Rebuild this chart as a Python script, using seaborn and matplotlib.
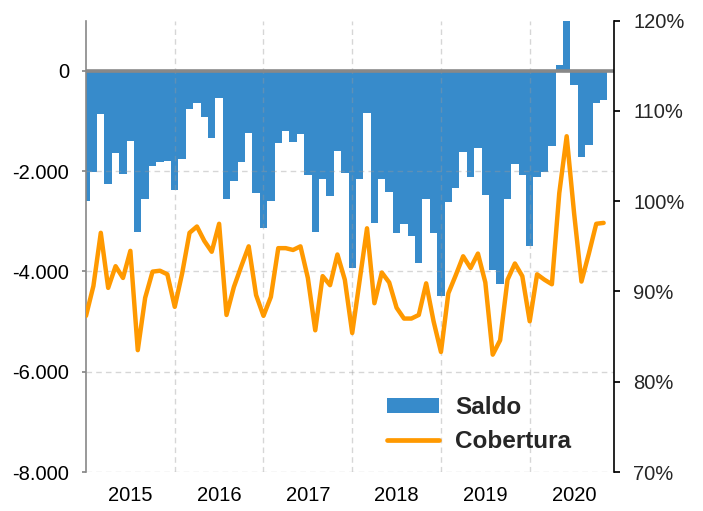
import numpy as np
import pandas as pd
import matplotlib
matplotlib.use("Agg")
import matplotlib.pyplot as plt
import seaborn as sns
from matplotlib.ticker import FixedLocator, FuncFormatter
from matplotlib.patches import Patch
from matplotlib.lines import Line2D

# monthly data, Jan 2015 .. Nov 2020
saldo = [-2600, -2010, -870, -2250, -1630, -2050, -1390, -3210, -2560, -1890, -1820, -1800,
         -2370, -1760, -760, -640, -920, -1340, -550, -2550, -2200, -1810, -1240, -2440,
         -3140, -2590, -1440, -1190, -1410, -1260, -2070, -3220, -2150, -2490, -1605, -2040,
         -3930, -2150, -840, -3030, -2150, -2420, -3230, -3050, -3290, -3830, -2560, -3230,
         -4490, -2620, -2340, -1610, -2110, -1540, -2470, -3970, -4260, -2560, -1860, -2070,
         -3500, -2110, -2010, -1490, 125, 1300, -290, -1720, -1470, -640, -575]
cobertura = [87.3, 90.6, 96.5, 90.4, 92.8, 91.5, 94.5, 83.5, 89.3, 92.2, 92.3, 91.9,
             88.3, 92.0, 96.5, 97.2, 95.6, 94.4, 97.5, 87.4, 90.5, 92.8, 95.0, 89.6,
             87.3, 89.4, 94.8, 94.8, 94.6, 95.0, 91.5, 85.7, 91.7, 90.7, 94.1, 91.3,
             85.4, 91.2, 97.0, 88.7, 92.1, 91.0, 88.2, 87.0, 87.0, 87.4, 90.9, 86.7,
             83.3, 89.8, 91.8, 93.9, 92.6, 94.2, 91.0, 83.0, 84.6, 91.3, 93.1, 91.7,
             86.7, 91.9, 91.3, 90.8, 100.9, 107.2, 98.7, 91.1, 94.2, 97.5, 97.6]
years = ["2015", "2016", "2017", "2018", "2019", "2020"]
left_ticks = [-8000, -6000, -4000, -2000, 0]
right_ticks = [70, 80, 90, 100, 110, 120]

df = pd.DataFrame({"mes": np.arange(len(saldo)), "saldo": saldo, "cobertura": cobertura})

sns.set_theme(style="white")
plt.rcParams["font.family"] = ["Liberation Sans", "DejaVu Sans"]

blue = "#378BCB"
orange = "#FF9900"

fig = plt.figure(figsize=(7.03, 5.11), dpi=100)
ax = fig.add_axes([86 / 703, 1 - 472 / 511, 528 / 703, (472 - 20.7) / 511])

sns.barplot(data=df, x="mes", y="saldo", native_scale=True, width=1.0, color=blue,
            saturation=1, linewidth=0, errorbar=None, ax=ax, zorder=1)
ax.axhline(0, color="#888888", lw=2.6, zorder=3)

ax.set_xlim(0, 71.4)
ax.set_ylim(-8000, 1000)
ax.yaxis.set_major_locator(FixedLocator(left_ticks))
ax.yaxis.set_major_formatter(FuncFormatter(lambda v, p: f"{int(v):,}".replace(",", ".")))
ax.xaxis.set_major_locator(FixedLocator([6, 18, 30, 42, 54, 66]))
ax.set_xticklabels(years)
ax.xaxis.set_minor_locator(FixedLocator([12, 24, 36, 48, 60]))
ax.set_xlabel("")
ax.set_ylabel("")

ax.set_axisbelow(False)
ax.grid(False)
ax.yaxis.grid(True, which="major", color="#999999", alpha=0.4, ls=(0, (4, 3)), lw=1)
ax.xaxis.grid(True, which="minor", color="#999999", alpha=0.4, ls=(0, (4, 3)), lw=1)

for s in ["top", "right", "bottom"]:
    ax.spines[s].set_visible(False)
ax.spines["left"].set_color("#888888")
ax.spines["left"].set_linewidth(1.2)
ax.tick_params(axis="y", which="major", left=True, direction="out", length=3,
               color="#888888", labelsize=14.5, pad=9, labelcolor="black")
ax.tick_params(axis="x", which="both", bottom=False, length=0, labelsize=14.5, pad=10,
               labelcolor="black")

ax2 = ax.twinx()
sns.lineplot(data=df, x="mes", y="cobertura", color=orange, lw=3.2, ax=ax2)
ax2.set_ylim(70, 120)
ax2.yaxis.set_major_locator(FixedLocator(right_ticks))
ax2.yaxis.set_major_formatter(FuncFormatter(lambda v, p: f"{int(v)}%"))
ax2.set_xlim(0, 71.4)
ax2.set_ylabel("")
ax2.set_xlabel("")
ax2.grid(False)
for s in ["top", "left", "bottom"]:
    ax2.spines[s].set_visible(False)
ax2.spines["right"].set_color("black")
ax2.spines["right"].set_linewidth(1.2)
ax2.tick_params(axis="y", right=True, direction="out", length=4, color="black",
                labelsize=14.5, pad=10)

handles = [Patch(facecolor=blue, edgecolor="none"),
           Line2D([0], [0], color=orange, lw=3.4)]
leg = fig.legend(handles, ["Saldo", "Cobertura"], loc="upper left",
                 bbox_to_anchor=(387 / 703, 1 - 396 / 511), frameon=False,
                 prop={"weight": "bold", "size": 17.5}, handlelength=2.15,
                 handleheight=0.6, handletextpad=0.65, labelspacing=0.45,
                 borderpad=0, borderaxespad=0)

fig.savefig("out.png", dpi=100)
